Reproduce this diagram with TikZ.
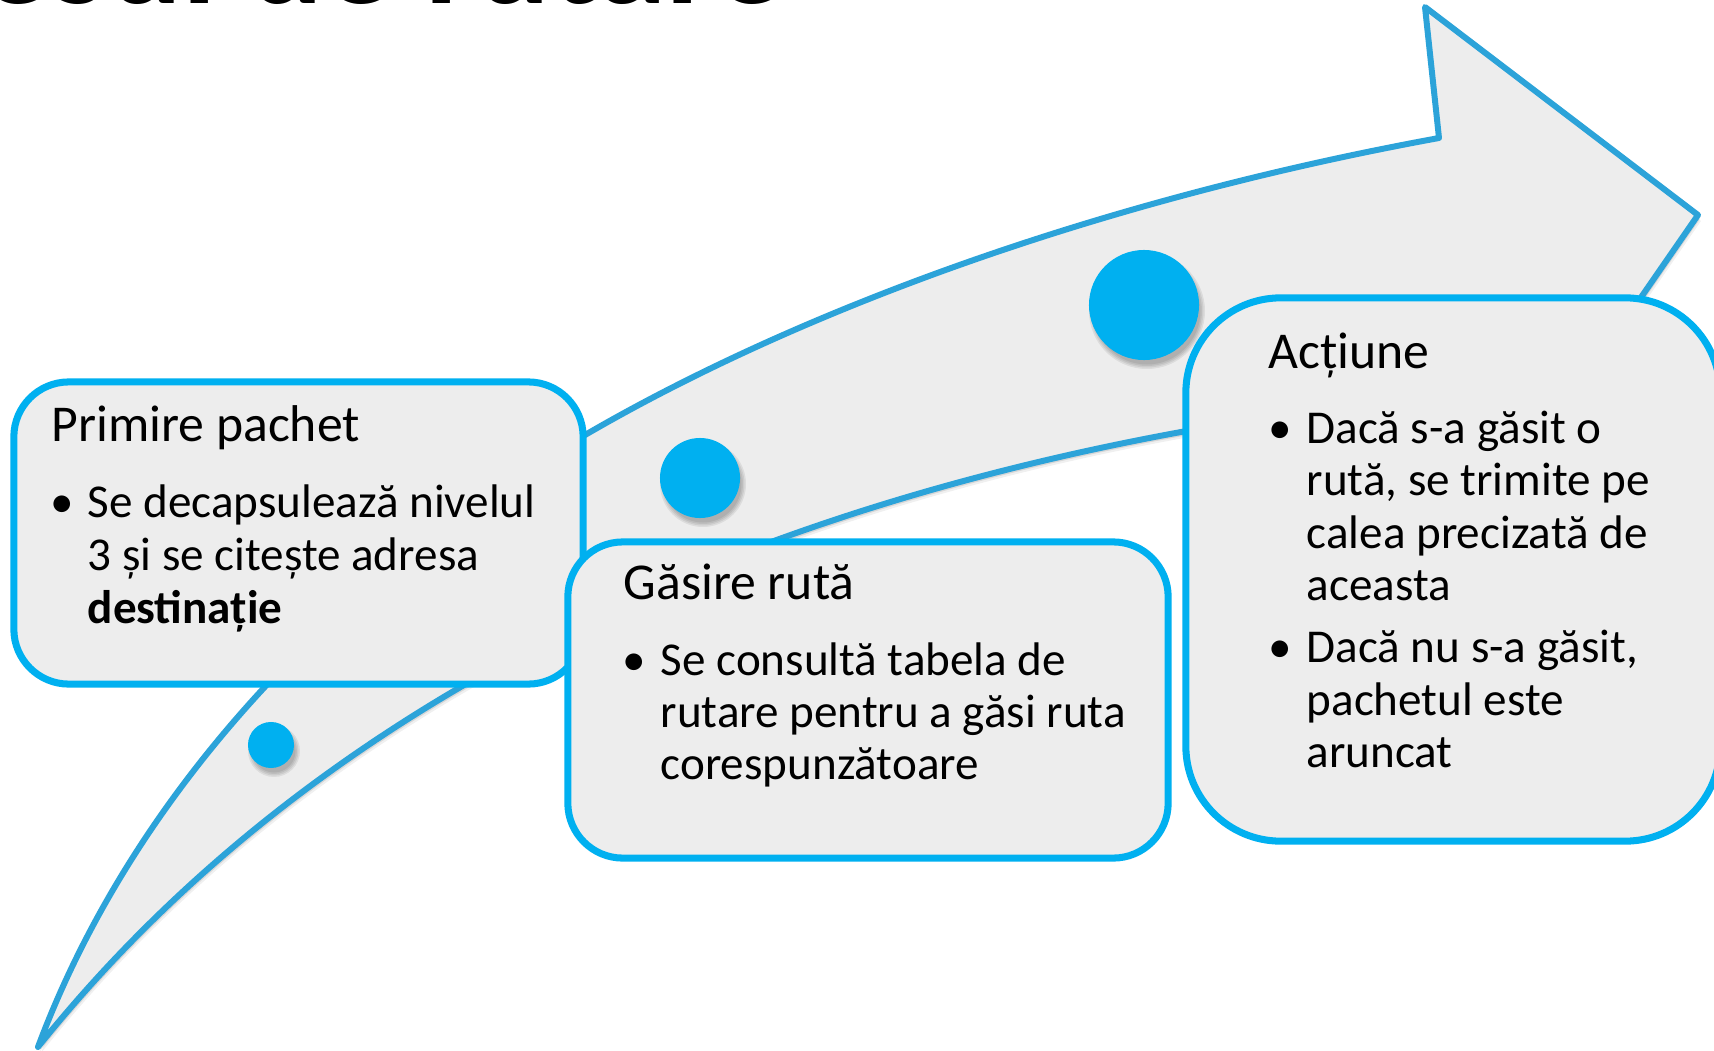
\documentclass[tikz,border=0pt]{standalone}
\usepackage{fontspec}
\setmainfont{Carlito}
\definecolor{boxblue}{HTML}{00B0F0}
\definecolor{arrowblue}{HTML}{2CA3D9}
\definecolor{panel}{HTML}{EDEDED}
\newcommand{\arrowpth}{(38,1047) .. controls (130,800) and (330,580) .. (585,435)
  .. controls (800,310) and (1100,200) .. (1439,138) -- (1425,7) -- (1698,215)
  -- (1570,400) -- (1590,362) -- (1181,432) .. controls (700,520) and (300,720) .. (38,1047) -- cycle}
\begin{document}
\begin{tikzpicture}[x=0.01cm,y=-0.01cm,
  panelbox/.style={draw=boxblue, line width=2pt, fill=panel, rounded corners=#1, inner sep=0pt},
  ttl/.style={font=\fontsize{14.7pt}{17pt}\selectfont, anchor=base west, inner sep=0pt},
  bodytxt/.style={font=\fontsize{13.4pt}{15pt}\selectfont, anchor=base west, inner sep=0pt},
  bul/.style={font=\fontsize{13.4pt}{15pt}\selectfont, anchor=base, inner sep=0pt},
  dot/.style={circle, fill=boxblue, draw=none, inner sep=0pt, minimum size=#1},
  shade/.style={fill=black, opacity=0.07}
]
\useasboundingbox (0,0) rectangle (1714,1051);
\clip (0,0) rectangle (1714,1051);
\fill[white] (0,0) rectangle (1714,1051);

% title (mostly above the visible area)
\node[font=\fontsize{39.8pt}{48pt}\bfseries\selectfont, anchor=base east, inner sep=0pt] (title) at (786,3) {Procesul de rutare};

% arrow shadow
\begin{scope}[shift={(2,4)}]
  \fill[black, opacity=0.10] \arrowpth;
\end{scope}
\begin{scope}[shift={(3,6)}]
  \fill[black, opacity=0.06] \arrowpth;
\end{scope}
% arrow
\path[fill=panel, draw=arrowblue, line width=1.7pt, line join=round] \arrowpth;

% circle shadows
\foreach \cx/\cy/\r in {271/745/23, 700/478/40, 1144/305/55}{
  \fill[shade] (\cx+3,\cy+6) circle ({\r+3});
  \fill[shade] (\cx+3,\cy+6) circle ({\r+1.5});
  \fill[shade] (\cx+3,\cy+6) circle ({\r});
  \fill[shade] (\cx+3,\cy+6) circle ({\r-1.5});
}
\node[dot=0.46cm] (c1) at (271,745) {};
\node[dot=0.80cm] (c2) at (700,478) {};
\node[dot=1.10cm] (c3) at (1144,305) {};

% left box
\node[panelbox=0.55cm, minimum width=5.69cm, minimum height=3.02cm] (b1) at (298.5,533) {};
\node[ttl] (t1) at (51,441) {Primire pachet};
\node[bul] (p1) at (62,517) {\textbullet};
\node[bodytxt] (t1a) at (87,517) {Se decapsulează nivelul};
\node[bodytxt] (t1b) at (87,570) {3 și se citește adresa};
\node[bodytxt] (t1c) at (87,623) {\textbf{destinație}};

% middle box
\node[panelbox=0.55cm, minimum width=6.00cm, minimum height=3.16cm] (b2) at (868,700) {};
\node[ttl] (t2) at (623,599) {Găsire rută};
\node[bul] (p2) at (634,675) {\textbullet};
\node[bodytxt] (t2a) at (660,675) {Se consultă tabela de};
\node[bodytxt] (t2b) at (660,727) {rutare pentru a găsi ruta};
\node[bodytxt] (t2c) at (660,779) {corespunzătoare};

% right box
\node[panelbox=0.95cm, minimum width=5.34cm, minimum height=5.43cm] (b3) at (1453,569.5) {};
\node[ttl] (t3) at (1268,368) {Acțiune};
\node[bul] (p3) at (1280,443) {\textbullet};
\node[bodytxt] (t3a) at (1306,443) {Dacă s-a găsit o};
\node[bodytxt] (t3b) at (1306,495) {rută, se trimite pe};
\node[bodytxt] (t3c) at (1306,548) {calea precizată de};
\node[bodytxt] (t3d) at (1306,600) {aceasta};
\node[bul] (p4) at (1280,662) {\textbullet};
\node[bodytxt] (t3e) at (1306,662) {Dacă nu s-a găsit,};
\node[bodytxt] (t3f) at (1306,715) {pachetul este};
\node[bodytxt] (t3g) at (1306,767) {aruncat};
\end{tikzpicture}
\end{document}
